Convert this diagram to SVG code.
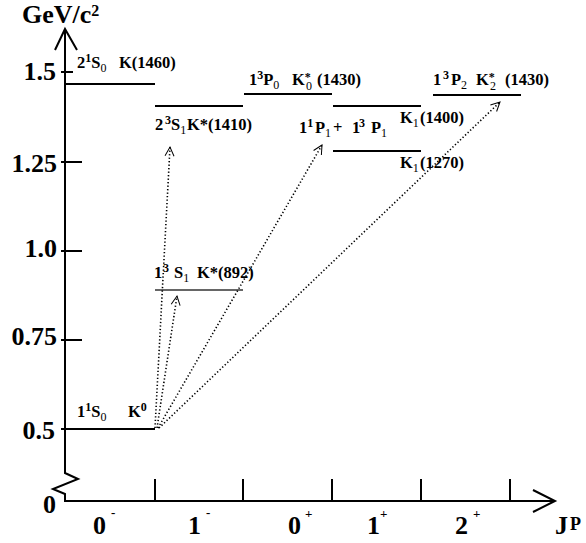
<svg xmlns="http://www.w3.org/2000/svg" width="586" height="543" viewBox="0 0 586 543">
<defs>
<style>
text{font-family:"Liberation Serif","Times New Roman",serif;font-weight:bold;fill:#000}
.ax{font-size:26px}
.xl{font-size:26px}
.lab{font-size:16.5px}
.sup{font-size:12px;font-weight:bold}
.sub{font-size:12px;font-weight:normal}
.xs{font-size:13px;font-weight:bold}
.axis{fill:none;stroke:#000;stroke-width:2}
.lvl{stroke:#000;stroke-width:2}
.dot{fill:none;stroke:#000;stroke-width:1.6;stroke-dasharray:1.3 2.2}
</style>
<marker id="ah" markerUnits="userSpaceOnUse" markerWidth="14" markerHeight="14" viewBox="-12 -7 14 14" refX="0" refY="0" orient="auto">
<path d="M-9,-4.5 L0,0 L-9,4.5" fill="none" stroke="#000" stroke-width="1"/>
</marker>
</defs>
<rect width="586" height="543" fill="#fff"/>

<g id="axes">
<path class="axis" d="M65,29 V473 L78,479 L53,489 L65,494 V501 H555"/>
<path class="axis" d="M55,50 L65,29 L77,50"/>
<path class="axis" d="M533,490 L555,501 L533,512"/>
<path class="axis" d="M61,72 H73 M61,162 H82 M61,251 H82 M61,340 H82 M61,429 H82"/>
<path class="axis" d="M155,479 V501 M243,479 V501 M332,479 V501 M421,479 V501 M510,479 V501"/>
<text x="22" y="23" style="font-size:26px">GeV/c<tspan style="font-size:16px" dy="-7">2</tspan></text>
<text class="ax" x="56" y="80" text-anchor="end">1.5</text>
<text class="ax" x="57" y="172" text-anchor="end">1.25</text>
<text class="ax" x="57" y="257" text-anchor="end">1.0</text>
<text class="ax" x="57" y="345" text-anchor="end">0.75</text>
<text class="ax" x="55" y="439" text-anchor="end">0.5</text>
<text class="ax" x="43" y="513">0</text>
<text class="xl" x="93" y="534">0</text><text class="xs" x="111" y="517">-</text>
<text class="xl" x="188" y="534">1</text><text class="xs" x="206" y="517">-</text>
<text class="xl" x="288" y="534">0</text><text class="xs" x="305" y="518">+</text>
<text class="xl" x="367" y="534">1</text><text class="xs" x="380" y="518">+</text>
<text class="xl" x="455" y="534">2</text><text class="xs" x="473" y="518">+</text>
<text class="xl" x="555" y="534">J</text><text x="570" y="530" style="font-size:18px">P</text>
</g>

<g id="K0">
<line class="lvl" x1="65" y1="429" x2="155" y2="429"/>
<text class="lab" x="77" y="417">1<tspan class="sup" dy="-6">1</tspan><tspan dy="6">S</tspan><tspan class="sub" dy="4">0</tspan><tspan x="128" dy="-4">K</tspan><tspan class="sup" dy="-6">0</tspan></text>
</g>

<g id="K1460">
<line class="lvl" x1="65" y1="84" x2="155" y2="84"/>
<text class="lab" x="77" y="68">2<tspan class="sup" dy="-6">1</tspan><tspan dy="6">S</tspan><tspan class="sub" dy="4">0</tspan><tspan x="119" dy="-4">K(1460)</tspan></text>
</g>

<g id="Kstar892">
<line x1="155" y1="290" x2="243" y2="290" stroke="#333" stroke-width="1.4"/>
<text class="lab" x="154" y="278">1<tspan class="sup" x="163" dy="-6">3</tspan><tspan x="174" dy="6">S</tspan><tspan class="sub" dy="4">1</tspan><tspan x="197" dy="-4">K*(892)</tspan></text>
</g>

<g id="Kstar1410">
<line class="lvl" x1="155" y1="106" x2="243" y2="106"/>
<text class="lab" x="155" y="130">2<tspan class="sup" x="165" dy="-6">3</tspan><tspan x="171" dy="6">S</tspan><tspan class="sub" dy="4">1</tspan><tspan x="187" dy="-4">K*(1410)</tspan></text>
</g>

<g id="K0star1430">
<line class="lvl" x1="244" y1="94" x2="332" y2="94"/>
<text class="lab" x="249" y="85">1<tspan class="sup" dy="-6">3</tspan><tspan dy="6">P</tspan><tspan class="sub" dy="4">0</tspan><tspan x="292" dy="-4">K</tspan><tspan class="sup" dy="-4">*</tspan><tspan class="sub" x="306" dy="9">0</tspan><tspan x="317" dy="-5">(1430)</tspan></text>
</g>

<g id="P1mix">
<text class="lab" x="299" y="133">1<tspan class="sup" dy="-6">1</tspan><tspan x="315" dy="6">P</tspan><tspan class="sub" dy="4">1</tspan><tspan x="333" dy="-4">+</tspan><tspan x="352">1</tspan><tspan class="sup" x="359" dy="-6">3</tspan><tspan x="371" dy="6">P</tspan><tspan class="sub" dy="4">1</tspan></text>
</g>

<g id="K1_1400">
<line class="lvl" x1="333" y1="106" x2="421" y2="106"/>
<text class="lab" x="400" y="123">K<tspan class="sub" dy="4">1</tspan><tspan x="420" dy="-4">(1400)</tspan></text>
</g>

<g id="K1_1270">
<line class="lvl" x1="333" y1="151" x2="421" y2="151"/>
<text class="lab" x="400" y="168">K<tspan class="sub" dy="4">1</tspan><tspan x="420" dy="-4">(1270)</tspan></text>
</g>

<g id="K2star1430">
<line class="lvl" x1="433" y1="95" x2="521" y2="95"/>
<text class="lab" x="433" y="85">1<tspan class="sup" x="443" dy="-6">3</tspan><tspan x="451" dy="6">P</tspan><tspan class="sub" dy="4">2</tspan><tspan x="476" dy="-4">K</tspan><tspan class="sup" dy="-4">*</tspan><tspan class="sub" x="490" dy="9">2</tspan><tspan x="505" dy="-5">(1430)</tspan></text>
</g>

<g id="connectors">
<line class="dot" x1="157" y1="428" x2="177" y2="296" marker-end="url(#ah)"/>
<line class="dot" x1="155" y1="428" x2="170" y2="147" marker-end="url(#ah)"/>
<line class="dot" x1="158" y1="428" x2="322" y2="145" marker-end="url(#ah)"/>
<line class="dot" x1="159" y1="428" x2="500" y2="102" marker-end="url(#ah)"/>
</g>
</svg>
